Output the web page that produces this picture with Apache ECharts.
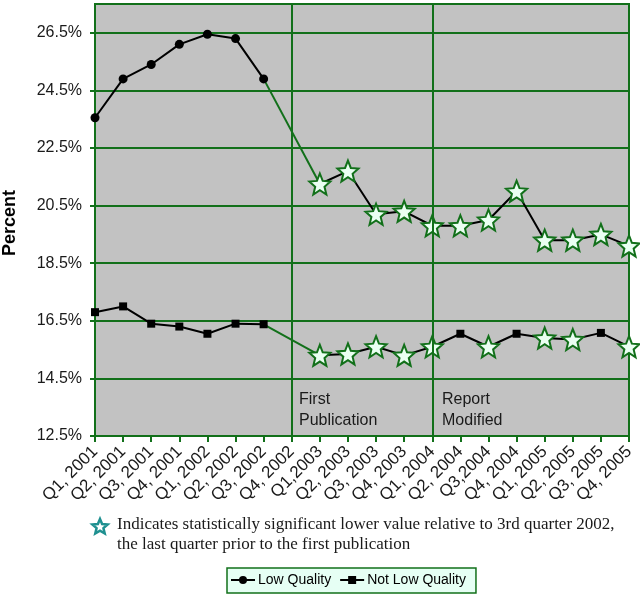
<!DOCTYPE html>
<html>
<head>
<meta charset="utf-8">
<script src="https://cdn.jsdelivr.net/npm/echarts@6/dist/echarts.min.js"></script>
<style>
  html, body { margin: 0; padding: 0; background: #ffffff; }
  #chart { width: 640px; height: 595px; }
</style>
</head>
<body>
<div id="chart"></div>
<script>
var quarters = ['Q1, 2001', 'Q2, 2001', 'Q3, 2001', 'Q4, 2001', 'Q1, 2002', 'Q2, 2002', 'Q3, 2002', 'Q4, 2002',
  'Q1,2003', 'Q2, 2003', 'Q3, 2003', 'Q4, 2003', 'Q1, 2004', 'Q2, 2004', 'Q3,2004', 'Q4, 2004',
  'Q1, 2005', 'Q2, 2005', 'Q3, 2005', 'Q4, 2005']
var lowQuality = [23.55, 24.9, 25.4, 26.1, 26.45, 26.3, 24.9, null,
  21.25, 21.7, 20.2, 20.3, 19.8, 19.8, 20.0, 21.0, 19.3, 19.3, 19.5, 19.1]
var notLowQuality = [16.8, 17.0, 16.4, 16.3, 16.05, 16.4, 16.38, null,
  15.3, 15.35, 15.6, 15.3, 15.6, 16.05, 15.6, 16.05, 15.9, 15.85, 16.08, 15.6]
// 1 = significantly lower than Q3 2002
var lowSig = [0, 0, 0, 0, 0, 0, 0, 0, 1, 1, 1, 1, 1, 1, 1, 1, 1, 1, 1, 1]
var notLowSig = [0, 0, 0, 0, 0, 0, 0, 0, 1, 1, 1, 1, 1, 0, 1, 0, 1, 1, 0, 1]
var lastBefore = 6   // Q3 2002
var firstAfter = 8   // Q1 2003
var events = ['Q4, 2002', 'Q1, 2004']

var green = '#12701a'
var font = 'Liberation Sans, Arial, sans-serif'
var starPath = 'path://M0,-10 L2.6,-3.6 L9.5,-3.1 L4.2,1.4 L5.9,8.1 L0,4.4 L-5.9,8.1 L-4.2,1.4 L-9.5,-3.1 L-2.6,-3.6 Z'

// little star for the footnote
function starPoints(cx, cy, r) {
  var pts = []
  for (var k = 0; k < 10; k++) {
    var rr = k % 2 === 0 ? r : r * 0.45
    var a = -Math.PI / 2 + k * Math.PI / 5
    pts.push([cx + rr * Math.cos(a), cy + rr * Math.sin(a)])
  }
  return pts
}

function withStars(values, flags, baseSymbol, baseSize) {
  return values.map(function(v, i) {
    if (flags[i]) {
      return {
        value: v,
        symbol: starPath,
        symbolSize: 21,
        itemStyle: { color: '#eafff2', borderColor: green, borderWidth: 2 }
      }
    }
    return { value: v, symbol: baseSymbol, symbolSize: baseSize }
  })
}

function bridge(values) {
  return values.map(function(v, i) {
    return (i === lastBefore || i === firstAfter) ? v : null
  })
}

var myChart = echarts.init(document.getElementById('chart'), null, { renderer: 'canvas' })
var option = {
  backgroundColor: '#ffffff',
  animation: false,
  grid: {
    left: 95,
    right: 11,
    top: 4,
    bottom: 159,
    show: true,
    backgroundColor: '#c2c2c2',
    borderColor: green,
    borderWidth: 2
  },
  legend: {
    top: 568,
    left: 227,
    itemGap: 8,
    itemWidth: 24,
    itemHeight: 10,
    padding: [5, 10, 6, 3],
    backgroundColor: '#e6fff4',
    borderColor: green,
    borderWidth: 1.5,
    borderRadius: 0,
    data: ['Low Quality', 'Not Low Quality'],
    textStyle: { fontFamily: font, fontSize: 14, color: '#000', padding: [0, 0, 0, -2] }
  },
  xAxis: {
    type: 'category',
    data: quarters,
    boundaryGap: false,
    axisLine: { lineStyle: { color: green, width: 2 } },
    axisTick: { show: true, length: 6, interval: 0, lineStyle: { color: green, width: 2 } },
    axisLabel: {
      interval: 0,
      rotate: 45,
      margin: 13,
      fontFamily: font,
      fontSize: 17,
      color: '#1a1a1a'
    },
    splitLine: { show: false }
  },
  yAxis: {
    type: 'value',
    min: 12.5,
    max: 27.5,
    interval: 2,
    axisLine: { show: true, lineStyle: { color: green, width: 2 } },
    axisTick: { show: true, length: 5, lineStyle: { color: green, width: 2 } },
    axisLabel: {
      showMaxLabel: false,
      margin: 13,
      fontFamily: font,
      fontSize: 16,
      color: '#1a1a1a',
      formatter: function(v) { return v.toFixed(1) + '%' }
    },
    splitLine: { show: true, lineStyle: { color: green, width: 2 } }
  },
  graphic: [
    {
      type: 'text',
      x: 1,
      y: 256,
      rotation: Math.PI / 2,
      style: { text: 'Percent', font: 'bold 18px ' + font, fill: '#000' }
    },
    {
      type: 'text', x: 299, y: 389,
      style: { text: 'First\nPublication', font: '16px ' + font, fill: '#1a1a1a', lineHeight: 21 }
    },
    {
      type: 'text', x: 442, y: 389,
      style: { text: 'Report\nModified', font: '16px ' + font, fill: '#1a1a1a', lineHeight: 21 }
    },
    {
      type: 'polygon',
      shape: { points: starPoints(100, 527, 8) },
      style: { fill: '#ffffff', stroke: '#1f9090', lineWidth: 2.5 }
    },
    {
      type: 'text', x: 117, y: 515,
      style: {
        text: 'Indicates statistically significant lower value relative to 3rd quarter 2002,\nthe last quarter prior to the first publication',
        font: '17px Liberation Serif, Times New Roman, serif',
        fill: '#1a1a1a',
        lineHeight: 20
      }
    }
  ],
  series: [
    {
      name: 'bridgeLow',
      type: 'line',
      data: bridge(lowQuality),
      connectNulls: true,
      showSymbol: false,
      silent: true,
      lineStyle: { color: green, width: 2 },
      z: 1
    },
    {
      name: 'bridgeNot',
      type: 'line',
      data: bridge(notLowQuality),
      connectNulls: true,
      showSymbol: false,
      silent: true,
      lineStyle: { color: green, width: 2 },
      z: 1
    },
    {
      name: 'Low Quality',
      type: 'line',
      symbol: 'circle',
      symbolSize: 9,
      data: withStars(lowQuality, lowSig, 'circle', 9),
      lineStyle: { color: '#000', width: 2 },
      itemStyle: { color: '#000' },
      z: 3,
      markLine: {
        silent: true,
        symbol: 'none',
        label: { show: false },
        lineStyle: { color: green, width: 2, type: 'solid' },
        data: events.map(function(e) { return { xAxis: e } })
      }
    },
    {
      name: 'Not Low Quality',
      type: 'line',
      symbol: 'rect',
      symbolSize: 8,
      data: withStars(notLowQuality, notLowSig, 'rect', 8),
      lineStyle: { color: '#000', width: 2 },
      itemStyle: { color: '#000' },
      z: 3
    }
  ]
}

myChart.setOption(option, true)
window.addEventListener('resize', () => {
  myChart.resize()
})
</script>
</body>
</html>
